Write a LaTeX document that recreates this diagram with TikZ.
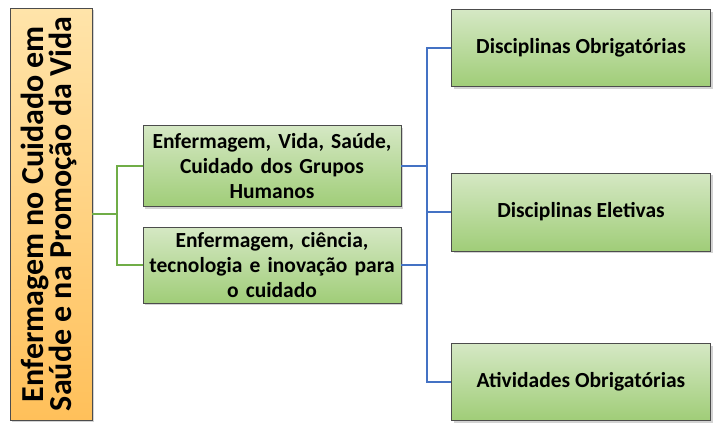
\documentclass[tikz,border=0pt]{standalone}
\usepackage{fontspec}
\setmainfont{Carlito}
\usetikzlibrary{shadows}
\definecolor{grnlight}{RGB}{213,232,196}
\definecolor{grndark}{RGB}{160,205,120}
\definecolor{orlight}{RGB}{255,228,170}
\definecolor{ordark}{RGB}{255,192,90}
\definecolor{grnline}{RGB}{112,173,71}
\definecolor{bluline}{RGB}{68,114,196}
\tikzset{
  box/.style={draw=black!70, top color=grnlight, bottom color=grndark,
    drop shadow={shadow xshift=2pt, shadow yshift=-2pt, opacity=.35},
    font=\fontsize{21.5}{25}\selectfont\bfseries, align=center, inner sep=0pt},
  gline/.style={grnline, line width=1.2pt},
  bline/.style={bluline, line width=1.2pt}
}
\begin{document}
\begin{tikzpicture}[x=1pt,y=-1pt]
\useasboundingbox (0,0) rectangle (723,429);

\node[box, top color=orlight, bottom color=ordark, minimum width=82pt, minimum height=412pt,
  font=\fontsize{32}{31}\selectfont\bfseries] (root) at (51,214)
  {\rotatebox{90}{\begin{tabular}{@{}c@{}}Enfermagem no Cuidado em\\[-4pt]Saúde e na Promoção da Vida\end{tabular}}};

\node[box, minimum width=258pt, minimum height=81pt, text width=250pt] (vida) at (272,166)
  {Enfermagem, Vida, Saúde,\\Cuidado dos Grupos\\Humanos};
\node[box, minimum width=258pt, minimum height=76pt, text width=250pt] (ciencia) at (272,265)
  {Enfermagem, ciência,\\tecnologia e inovação para\\o cuidado};

\node[box, minimum width=259pt, minimum height=77pt] (obrig) at (581,48) {Disciplinas Obrigatórias};
\node[box, minimum width=259pt, minimum height=78pt] (eletiv) at (581,212) {Disciplinas Eletivas};
\node[box, minimum width=259pt, minimum height=77pt] (ativ) at (581,382) {Atividades Obrigatórias};

\coordinate (gj) at (117,214);
\coordinate (bj) at (427,212);

% green tree
\draw[gline] (root.east) -- (gj);
\draw[gline] (vida.west) -| (gj) |- (ciencia.west);

% blue tree
\draw[bline] (vida.east) -- (vida.east -| bj);
\draw[bline] (ciencia.east) -- (ciencia.east -| bj);
\draw[bline] (obrig.west) -| (bj) |- (ativ.west);
\draw[bline] (bj) -- (eletiv.west);
\end{tikzpicture}
\end{document}
